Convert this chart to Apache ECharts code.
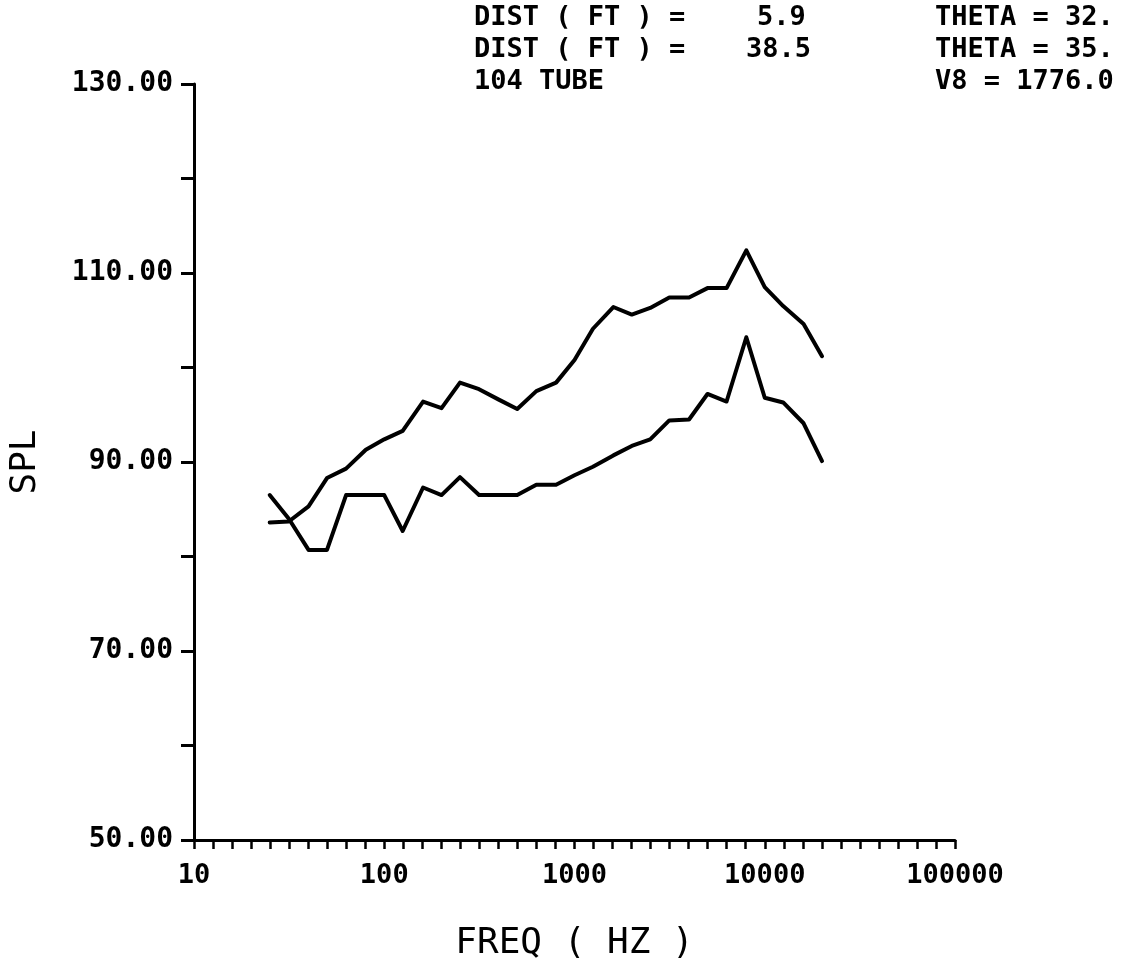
<!DOCTYPE html>
<html>
<head>
<meta charset="utf-8">
<script src="https://cdn.jsdelivr.net/npm/echarts@6/dist/echarts.min.js"></script>
<style>
  html, body { margin: 0; padding: 0; background: #fff; }
  #chart { width: 1123px; height: 972px; }
</style>
</head>
<body>
<div id="chart"></div>
<script>
// One-third octave band centre frequencies (Hz)
const freqs = [25, 31.5, 40, 50, 63, 80, 100, 125, 160, 200, 250, 315, 400, 500, 630,
  800, 1000, 1250, 1600, 2000, 2500, 3150, 4000, 5000, 6300, 8000, 10000, 12500, 16000, 20000];

// SPL spectrum at 5.9 ft
const splNear = [83.6, 83.7, 85.3, 88.3, 89.3, 91.3, 92.4, 93.3, 96.4, 95.7, 98.4, 97.7, 96.6, 95.6, 97.5,
  98.4, 100.8, 104.1, 106.4, 105.6, 106.3, 107.4, 107.4, 108.4, 108.4, 112.4, 108.5, 106.5, 104.6, 101.2];

// SPL spectrum at 38.5 ft
const splFar = [86.5, 84.0, 80.7, 80.7, 86.5, 86.5, 86.5, 82.7, 87.3, 86.5, 88.4, 86.5, 86.5, 86.5, 87.6,
  87.6, 88.6, 89.5, 90.7, 91.7, 92.4, 94.4, 94.5, 97.2, 96.4, 103.2, 96.8, 96.3, 94.1, 90.1];

// Axis tick labels
const yTickLabels = [50, 70, 90, 110, 130];
const xDecadeLabels = [10, 100, 1000, 10000, 100000];

// Header annotations
const headerLeft = ['DIST ( FT ) =', 'DIST ( FT ) =', '104 TUBE'];
const headerMid = ['5.9', '38.5', ''];
const headerRight = ['THETA = 32.', 'THETA = 35.', 'V8 = 1776.0'];

const plotFont = '"DejaVu Sans Mono", monospace';
const ink = '#000';
const headFont = 'bold 27px ' + plotFont;

// Header layout: row centres and column anchors
const headerRows = [18, 50, 82];
const headerMidX = [757, 746, 0];
const headerLeftX = 474;
const headerRightX = 935;

// Frequency axis is drawn on log10(f) so ticks fall every tenth of a decade
const toPoints = (vals) => freqs.map((f, i) => [Math.log10(f), vals[i]]);

const chart = echarts.init(document.getElementById('chart'), null, { renderer: 'canvas' });

const graphics = [];
headerRows.forEach((y, i) => {
  graphics.push({ type: 'text', x: headerLeftX, y: y, style: { text: headerLeft[i], font: headFont, fill: ink, verticalAlign: 'middle' } });
  if (headerMid[i]) {
    graphics.push({ type: 'text', x: headerMidX[i], y: y, style: { text: headerMid[i], font: headFont, fill: ink, verticalAlign: 'middle' } });
  }
  graphics.push({ type: 'text', x: headerRightX, y: y, style: { text: headerRight[i], font: headFont, fill: ink, verticalAlign: 'middle' } });
});

chart.setOption({
  animation: false,
  backgroundColor: '#fff',
  grid: { left: 191, top: 84, width: 764, height: 756, containLabel: false },
  xAxis: {
    type: 'value',
    min: 1, max: 5, interval: 0.1,
    name: 'FREQ ( HZ )',
    nameLocation: 'middle',
    nameGap: 86,
    nameTextStyle: { fontFamily: plotFont, fontSize: 36, color: ink },
    axisLine: { lineStyle: { color: ink, width: 3 } },
    axisTick: { inside: false, length: 9, lineStyle: { color: ink, width: 2.5 } },
    axisLabel: {
      margin: 22,
      fontFamily: plotFont, fontWeight: 'bold', fontSize: 27, color: ink,
      formatter: (v) => {
        const k = Math.round(v);
        if (Math.abs(v - k) > 1e-6) return '';
        const val = Math.pow(10, k);
        return xDecadeLabels.includes(val) ? String(val) : '';
      }
    },
    splitLine: { show: false }
  },
  yAxis: {
    type: 'value',
    min: 50, max: 130, interval: 10,
    name: 'SPL',
    nameLocation: 'middle',
    nameRotate: 90,
    nameGap: 150,
    nameTextStyle: { fontFamily: plotFont, fontSize: 36, color: ink },
    axisLine: { lineStyle: { color: ink, width: 3 } },
    axisTick: { inside: false, length: 13, lineStyle: { color: ink, width: 3 } },
    axisLabel: {
      margin: 21,
      verticalAlign: 'middle',
      padding: [0, 0, 15, 0],
      fontFamily: plotFont, fontWeight: 'bold', fontSize: 28, color: ink,
      formatter: (v) => yTickLabels.includes(Math.round(v)) ? Number(v).toFixed(2) : ''
    },
    splitLine: { show: false }
  },
  series: [
    {
      name: '5.9 FT', type: 'line', data: toPoints(splNear),
      showSymbol: false, symbol: 'none',
      lineStyle: { color: ink, width: 4, join: 'round', cap: 'round' }
    },
    {
      name: '38.5 FT', type: 'line', data: toPoints(splFar),
      showSymbol: false, symbol: 'none',
      lineStyle: { color: ink, width: 4, join: 'round', cap: 'round' }
    }
  ],
  graphic: graphics
});
</script>
</body>
</html>
